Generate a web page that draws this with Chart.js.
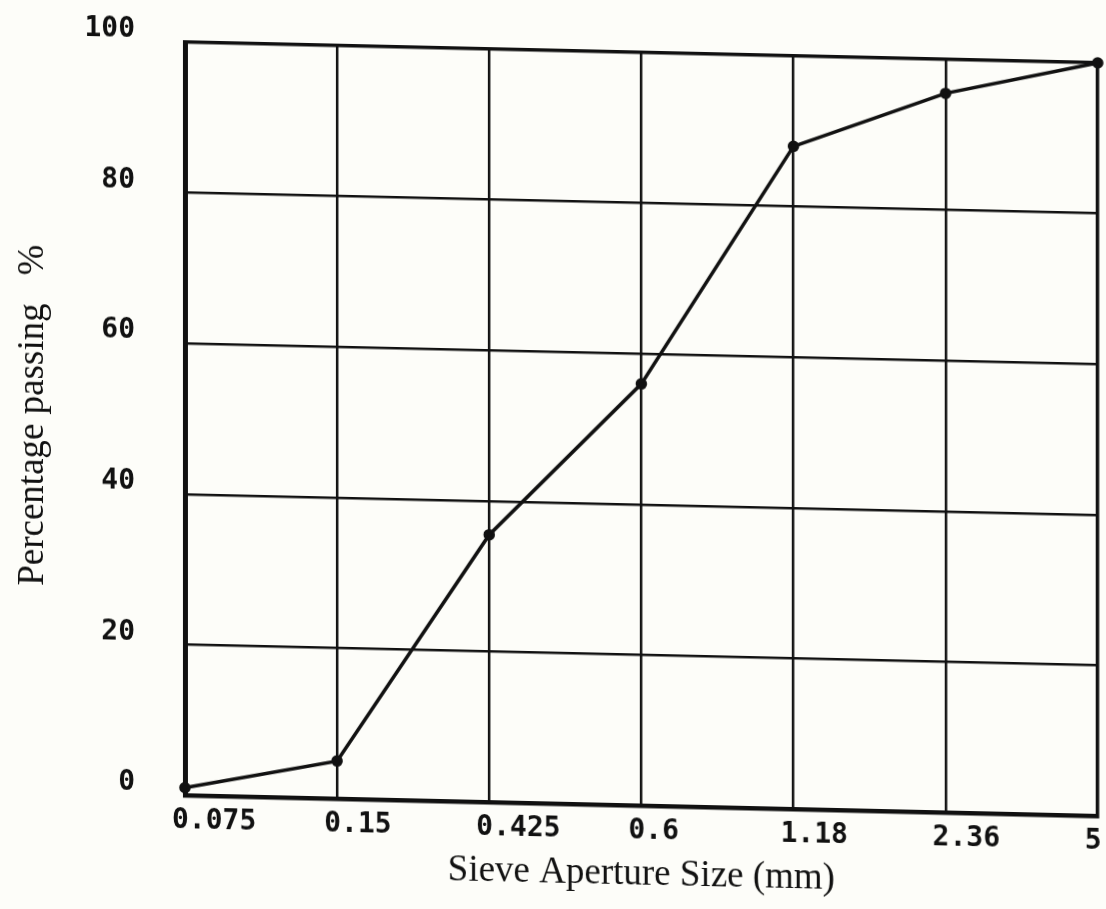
<!DOCTYPE html>
<html>
<head>
<meta charset="utf-8">
<title>Sieve grading curve</title>
<script src="https://cdn.jsdelivr.net/npm/chart.js@4.4.1/dist/chart.umd.min.js"></script>
<style>
  html, body { margin: 0; padding: 0; background: #fdfdf9; overflow: hidden; }
  /* the scanned sheet sits slightly tilted */
  #wrap { width: 1106px; height: 909px; transform: skewY(1.3deg); transform-origin: 0 0; }
</style>
</head>
<body>
<div id="wrap"><canvas id="gradingChart" width="1106" height="909"></canvas></div>
<script>
const sieveSizes = ["0.075", "0.15", "0.425", "0.6", "1.18", "2.36", "5"];
const percentPassing = [1, 5, 35.5, 56, 88, 95.5, 100];
const yTicks = [0, 20, 40, 60, 80, 100];

const ink = "#111";
const tickFont = { family: "'DejaVu Sans Mono', monospace", size: 28, weight: "bold" };
const titleFont = { family: "'Liberation Serif', 'Times New Roman', serif", size: 37 };

const ctx = document.getElementById("gradingChart").getContext("2d");

new Chart(ctx, {
    type: "line",
    data: {
        labels: sieveSizes,
        datasets: [{
            label: "Percentage passing",
            data: percentPassing,
            borderColor: ink,
            backgroundColor: ink,
            borderWidth: 3.5,
            pointRadius: 4,
            pointBackgroundColor: ink,
            pointBorderColor: ink,
            tension: 0,
            fill: false,
            clip: false
        }]
    },
    options: {
        responsive: false,
        animation: false,
        layout: { padding: { top: 38, right: 8, left: 0, bottom: 0 } },
        plugins: {
            legend: { display: false },
            tooltip: { enabled: false }
        },
        scales: {
            x: {
                offset: false,
                grid: {
                    color: ink,
                    lineWidth: c => (c.index === sieveSizes.length - 1 ? 3.5 : 2.5),
                    drawTicks: false
                },
                border: { color: ink, width: 4.5 },
                ticks: {
                    color: ink,
                    font: tickFont,
                    align: "start",
                    labelOffset: -13,
                    padding: 9,
                    maxRotation: 0,
                    autoSkip: false
                },
                title: {
                    display: true,
                    text: "Sieve Aperture Size (mm)",
                    color: ink,
                    font: titleFont,
                    padding: { top: 0, bottom: 27 }
                },
                afterFit: scale => {
                    scale.height = 118;
                    scale.paddingLeft = 0;
                    scale.paddingRight = 0;
                }
            },
            y: {
                min: 0,
                max: 100,
                afterBuildTicks: scale => {
                    scale.ticks = yTicks.map(v => ({ value: v }));
                },
                grid: {
                    color: ink,
                    lineWidth: c => (c.tick && c.tick.value === 100 ? 3.5 : 2.5),
                    drawTicks: false
                },
                border: { color: ink, width: 5 },
                ticks: {
                    color: ink,
                    font: tickFont,
                    padding: 50,
                    labelOffset: -11
                },
                title: {
                    display: true,
                    text: "Percentage passing\u00a0\u00a0\u00a0%",
                    color: ink,
                    font: titleFont,
                    padding: { top: 11, bottom: 0 }
                },
                afterFit: scale => {
                    scale.width = 185;
                    scale.paddingTop = 0;
                    scale.paddingBottom = 0;
                }
            }
        }
    }
});
</script>
</body>
</html>
